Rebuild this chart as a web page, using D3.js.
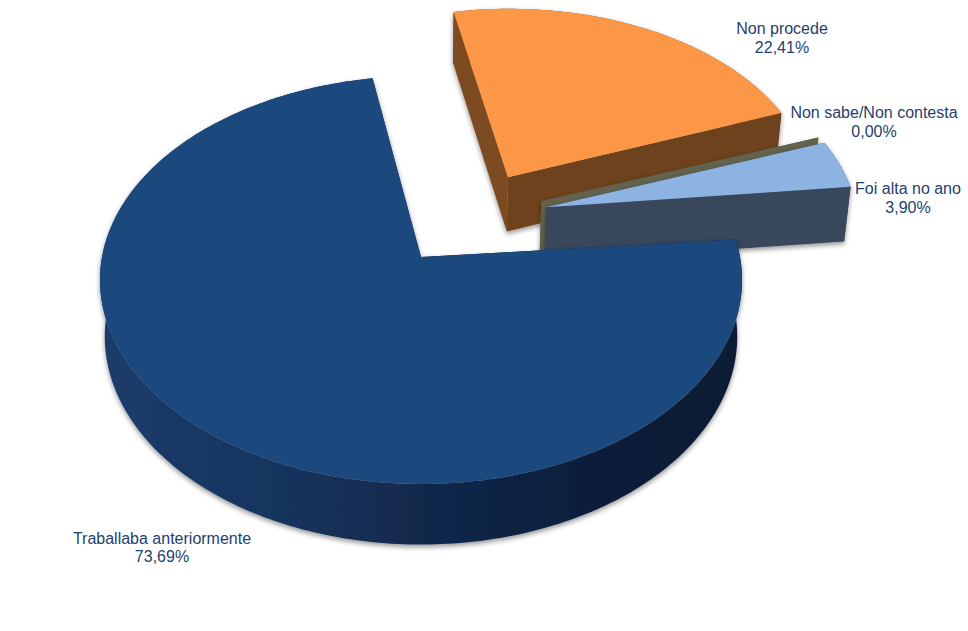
<!DOCTYPE html>
<html><head><meta charset="utf-8">
<script src="https://cdnjs.cloudflare.com/ajax/libs/d3/7.8.5/d3.min.js"></script>
<style>html,body{margin:0;padding:0;background:#fff}svg{display:block}</style>
</head><body><div id="chart"></div>
<script>
const categories = ["Traballaba anteriormente","Non procede","Non sabe/Non contesta","Foi alta no ano"];
const values = [73.69,22.41,0.00,3.90];
const topColors = ["#1f497d","#fb9746","#6a6a55","#8db3e2"];
const cutColors = ["#0e2140","#7c4c20","#62624e","#38475c"];
const leftCutColors = ["#0e2140","#6d431c","#62624e","#38475c"];
const explode = [0,0.565,0.405,0.405];
const lift = [0,13,-29.5,-33];
const radiusScale = [1,1,0.98,0.98];
const yStretch = [1,1.03,1,1];
const shear = [0,0.02,0.012,0.012];
const drawOrder = [1,2,3,0];
const labelX = [162,782,874,908];
const labelY = [543.5,34,118,194];

const W=968,H=631,cx=421,cy=257,A=319,B=201.4,K=0.1127;
const svg=d3.select("#chart").append("svg").attr("width",W).attr("height",H);
const defs=svg.append("defs");
const f=defs.append("filter").attr("id","sh").attr("x","-10%").attr("y","-10%").attr("width","120%").attr("height","120%");
f.append("feDropShadow").attr("dx",0).attr("dy",2.5).attr("stdDeviation",2.8).attr("flood-color","#000").attr("flood-opacity",0.42);
const g=defs.append("linearGradient").attr("id","rim").attr("gradientUnits","userSpaceOnUse").attr("x1",100).attr("x2",742).attr("y1",0).attr("y2",0);
[[0,"#1b3c6b"],[0.3,"#16335c"],[0.55,"#102648"],[0.8,"#0b1d38"],[1,"#0a1a33"]].forEach(s=>g.append("stop").attr("offset",s[0]).attr("stop-color",s[1]));

const rad=Math.PI/180;
const arcs=d3.pie().sort(null).value(d=>d).startAngle(85*rad).endAngle(445*rad)(values);
const line=d3.line().x(d=>d[0]).y(d=>d[1]);

function project(u,v,l){
  const w=1+K*v;
  return [cx+A*u/w, cy-B*v/w+l];
}
function lower(p){
  return [cx+(p[0]-cx)*0.985, p[1]+56+(p[1]-257)*0.02];
}
function shape(a,i){
  const mid=(a.startAngle+a.endAngle)/2, d=explode[i];
  const ox=d*Math.sin(mid), oy=d*Math.cos(mid);
  const pt=(t,r)=>project(ox+r*Math.sin(t),oy+r*Math.cos(t),lift[i]);
  const apex=pt(0,0);
  const n=Math.max(1,Math.ceil((a.endAngle-a.startAngle)/(1*rad)));
  const rim=d3.range(n+1).map(k=>{
    const p=pt(a.startAngle+(a.endAngle-a.startAngle)*k/n,radiusScale[i]);
    const dx=p[0]-apex[0], dy=p[1]-apex[1];
    return [p[0], apex[1]+dy*yStretch[i]-dx*shear[i]];
  });
  return {apex,rim};
}
const root=svg.append("g");
drawOrder.forEach(i=>{
  const s=shape(arcs[i],i), gr=root.append("g").attr("filter","url(#sh)");
  const first=s.rim[0], last=s.rim[s.rim.length-1];
  if(values[i]>0){
    gr.append("path").attr("d",line(s.rim.concat(s.rim.map(lower).reverse()))+"Z")
      .attr("fill",i===0?"url(#rim)":cutColors[i]);
  }
  gr.append("path").attr("d",line([s.apex,last,lower(last),lower(s.apex)])+"Z").attr("fill",leftCutColors[i]);
  gr.append("path").attr("d",line([s.apex,first,lower(first),lower(s.apex)])+"Z").attr("fill",cutColors[i]);
  if(values[i]>0){
    gr.append("path").attr("d",line([s.apex].concat(s.rim))+"Z").attr("fill",topColors[i]);
  }
});
const fmt=v=>v.toFixed(2).replace(".",",")+"%";
categories.forEach((c,i)=>{
  const t=svg.append("text").attr("text-anchor","middle").attr("font-family","'Liberation Sans',Arial,sans-serif")
    .attr("font-size",16).attr("fill","#1f3f6e");
  t.append("tspan").attr("x",labelX[i]).attr("y",labelY[i]).text(c);
  t.append("tspan").attr("x",labelX[i]).attr("y",labelY[i]+18.5).text(fmt(values[i]));
});
</script></body></html>
